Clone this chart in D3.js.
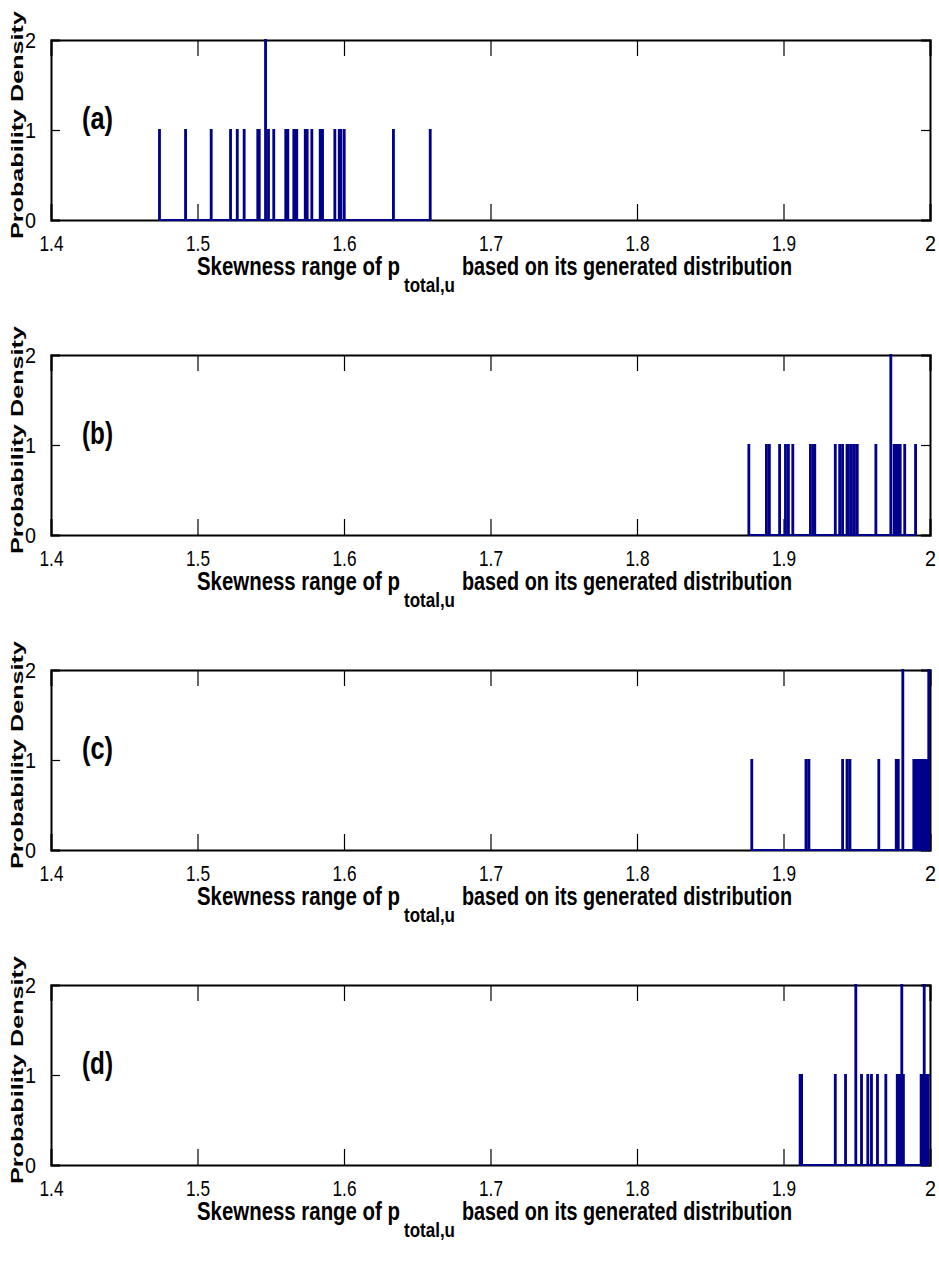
<!DOCTYPE html>
<meta charset="utf-8">
<head>
	<style type="text/css">
		body { margin: 0; background: #fff; }
		.tick text { font-family: "Liberation Sans Narrow", "Liberation Sans", Arial, sans-serif; font-size: 22px; fill: #000; }
		.tick line { stroke: #000; stroke-width: 1.2; }
		.domain { stroke: #000; stroke-width: 2; }
		.lbl { font-family: "Liberation Sans", Arial, sans-serif; font-weight: bold; fill: #000; }
	</style>
	<title>Skewness histograms</title>
</head>

<script src="https://cdn.jsdelivr.net/npm/d3@7"></script>

<svg width="939" height="1267" id="svg1"></svg>

<script>
	// ---- data ----
	const xTicks = [1.4, 1.5, 1.6, 1.7, 1.8, 1.9, 2];
	const yTicks = [0, 1, 2];
	const panelLabels = ['(a)', '(b)', '(c)', '(d)'];

	const skewA = [1.4737, 1.4915, 1.5090, 1.5222, 1.5268, 1.5315, 1.5408, 1.5418, 1.5461, 1.5481, 1.5517,
		1.5599, 1.5613, 1.5654, 1.5663, 1.5674, 1.5732, 1.5745, 1.5777, 1.5834, 1.5850, 1.5934, 1.5964,
		1.5975, 1.5998, 1.6334, 1.6585];
	const countA = [1, 1, 1, 1, 1, 1, 1, 1, 2, 1, 1, 1, 1, 1, 1, 1, 1, 1, 1, 1, 1, 1, 1, 1, 1, 1, 1];

	const skewB = [1.8760, 1.8880, 1.8900, 1.8970, 1.9010, 1.9030, 1.9060, 1.9180, 1.9200, 1.9210,
		1.9350, 1.9380, 1.9400, 1.9430, 1.9440, 1.9460, 1.9480, 1.9500, 1.9627, 1.9729, 1.9752,
		1.9766, 1.9780, 1.9793, 1.9824, 1.9898];
	const countB = [1, 1, 1, 1, 1, 1, 1, 1, 1, 1, 1, 1, 1, 1, 1, 1, 1, 1, 1, 2, 1, 1, 1, 1, 1, 1];

	const skewC = [1.8780, 1.9150, 1.9170, 1.9400, 1.9430, 1.9450, 1.9647, 1.9766, 1.9780, 1.9811,
		1.9886, 1.9900, 1.9913, 1.9925, 1.9940, 1.9954, 1.9966, 1.9977, 1.9988];
	const countC = [1, 1, 1, 1, 1, 1, 1, 1, 1, 2, 1, 1, 1, 1, 1, 1, 1, 1, 2];

	const skewD = [1.9110, 1.9120, 1.9350, 1.9420, 1.9490, 1.9529, 1.9572, 1.9597, 1.9638, 1.9695,
		1.9773, 1.9785, 1.9795, 1.9804, 1.9815, 1.9936, 1.9950, 1.9957, 1.9970, 1.9984];
	const countD = [1, 1, 1, 1, 2, 1, 1, 1, 1, 1, 1, 1, 1, 2, 1, 1, 1, 2, 1, 1];

	const panels = [
		{skew: skewA, count: countA},
		{skew: skewB, count: countB},
		{skew: skewC, count: countC},
		{skew: skewD, count: countD}
	];

	const svg1 = d3.select('#svg1');
	const left = 51, right = 930, plotH = 180;
	const tops = [40, 355, 670, 985];
	const binW = 0.0007;

	const x = d3.scaleLinear().domain([1.4, 2]).range([left, right]);
	const fmt = d => String(+d.toFixed(1));

	panels.forEach((p, i) => {
		const top = tops[i];
		const y = d3.scaleLinear().domain([0, 2]).range([top + plotH, top]);
		const g = svg1.append('g');

		// axes with inward ticks
		g.append('g')
			.attr('transform', `translate(0,${top + plotH})`)
			.call(d3.axisBottom(x).tickValues(xTicks).tickSize(-16).tickPadding(15).tickFormat(fmt));
		g.append('g')
			.attr('transform', `translate(0,${top})`)
			.call(d3.axisTop(x).tickValues(xTicks).tickSize(-16).tickFormat(''));
		g.append('g')
			.attr('transform', `translate(${left},0)`)
			.call(d3.axisLeft(y).tickValues(yTicks).tickSize(-9).tickPadding(15).tickFormat(d3.format('d')));
		g.append('g')
			.attr('transform', `translate(${right},0)`)
			.call(d3.axisRight(y).tickValues(yTicks).tickSize(-9).tickFormat(''));
		g.selectAll('.tick text')
			.attr('textLength', function() { return this.textContent.length > 1 ? 24 : 11; })
			.attr('lengthAdjust', 'spacingAndGlyphs');

		// histogram outline (stairs)
		const pts = [[p.skew[0], 0]];
		p.skew.forEach((v, j) => {
			pts.push([v, 0], [v, p.count[j]], [v + binW, p.count[j]], [v + binW, 0]);
		});
		const line = d3.line().x(d => x(d[0])).y(d => y(d[1]));
		g.append('path')
			.attr('d', line(pts))
			.attr('fill', 'none')
			.attr('stroke', '#00008b')
			.attr('stroke-width', 1.8);

		// panel label
		g.append('text')
			.attr('class', 'lbl')
			.attr('x', 82)
			.attr('y', top + 89)
			.attr('font-size', 32)
			.attr('textLength', 31)
			.attr('lengthAdjust', 'spacingAndGlyphs')
			.text(panelLabels[i]);

		// y label
		g.append('text')
			.attr('class', 'lbl')
			.attr('transform', `translate(23,${top + plotH / 2 - 5}) rotate(-90)`)
			.attr('text-anchor', 'middle')
			.attr('font-size', 17)
			.attr('textLength', 228)
			.attr('lengthAdjust', 'spacingAndGlyphs')
			.text('Probability Density');

		// x label with subscript, one text element
		const xl = top + plotH;
		const t = g.append('text')
			.attr('class', 'lbl')
			.attr('y', xl + 55)
			.attr('font-size', 25);
		t.append('tspan')
			.attr('x', 197)
			.attr('textLength', 203)
			.attr('lengthAdjust', 'spacingAndGlyphs')
			.text('Skewness range of  p');
		t.append('tspan')
			.attr('x', 404)
			.attr('dy', 17)
			.attr('font-size', 20)
			.attr('textLength', 51)
			.attr('lengthAdjust', 'spacingAndGlyphs')
			.text('total,u');
		t.append('tspan')
			.attr('x', 462)
			.attr('dy', -17)
			.attr('textLength', 330)
			.attr('lengthAdjust', 'spacingAndGlyphs')
			.text('based on its generated distribution');
	});
</script>
